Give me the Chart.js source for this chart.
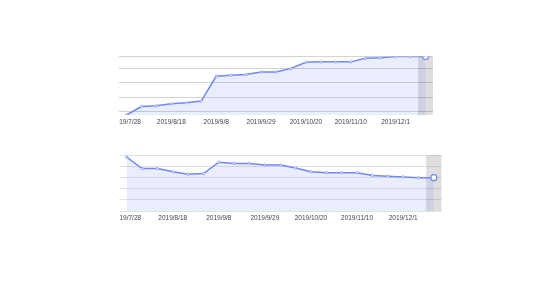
<!DOCTYPE html>
<html>
<head>
<meta charset="utf-8">
<script src="https://cdn.jsdelivr.net/npm/chart.js@4/dist/chart.umd.min.js"></script>
<style>
    body { margin: 0; background: #fff; width: 554px; height: 301px; position: relative; overflow: hidden; }
    .clip { position: absolute; overflow: hidden; }
    .box { position: absolute; top: 0; }
</style>
</head>
<body>
<div class="clip" style="left:119px; top:48px; width:330px; height:80px;">
    <div class="box" style="left:-20px; width:340px; height:80px;"><canvas id="topGraph"></canvas></div>
</div>
<div class="clip" style="left:119px; top:150px; width:335px; height:74px;">
    <div class="box" style="left:-20px; width:350px; height:74px;"><canvas id="bottomGraph"></canvas></div>
</div>
<script>
// weekly categories, one label every three weeks
const categories = ['2019/7/28', '2019/8/4', '2019/8/11', '2019/8/18', '2019/8/25', '2019/9/1', '2019/9/8',
    '2019/9/15', '2019/9/22', '2019/9/29', '2019/10/6', '2019/10/13', '2019/10/20', '2019/10/27',
    '2019/11/3', '2019/11/10', '2019/11/17', '2019/11/24', '2019/12/1', '2019/12/8', '2019/12/15'];
const labelEvery = 3;

const topValues = [1077, 1135, 1140, 1154, 1161, 1173, 1344, 1351, 1356, 1373, 1373, 1398, 1440, 1443,
    1443, 1443, 1468, 1471, 1480, 1480, 1480];
const topTicks = [1100, 1200, 1300, 1400, 1480];

const bottomValues = [96.8, 76.0, 76.0, 70.3, 65.9, 67.1, 87.5, 85.3, 85.3, 82.3, 82.3, 77.0, 70.3, 68.6,
    68.6, 68.6, 63.8, 62.4, 61.0, 59.7, 59.7];
const bottomTicks = [0, 20, 40, 60, 80, 100];

const lineColor = 'rgb(112, 136, 240)';

// grey band over the last category
const lastBand = {
    id: 'lastBand',
    beforeDatasetsDraw(chart) {
        const x = chart.scales.x;
        const area = chart.chartArea;
        const n = chart.data.labels.length;
        const half = (x.getPixelForValue(1) - x.getPixelForValue(0)) / 2;
        const cx = x.getPixelForValue(n - 1);
        const ctx = chart.ctx;
        ctx.save();
        ctx.fillStyle = 'rgba(0, 0, 0, 0.13)';
        ctx.fillRect(cx - half, area.top, half * 2, area.bottom - area.top);
        ctx.restore();
    }
};

function makeChart(id, values, ticks, yMin, yMax, pad, gridColor) {
    const ctx = document.getElementById(id).getContext('2d');
    return new Chart(ctx, {
        type: 'line',
        data: {
            labels: categories,
            datasets: [{
                data: values,
                borderColor: lineColor,
                borderWidth: 1.5,
                backgroundColor: 'rgba(95, 115, 235, 0.13)',
                fill: 'start',
                tension: 0,
                pointRadius: c => c.dataIndex === values.length - 1 ? 3 : 1.2,
                pointBorderWidth: c => c.dataIndex === values.length - 1 ? 1.2 : 0.7,
                pointBackgroundColor: '#fff',
                pointBorderColor: lineColor,
            }]
        },
        options: {
            responsive: true,
            maintainAspectRatio: false,
            animation: false,
            layout: { padding: pad },
            plugins: {
                legend: { display: false },
                tooltip: { enabled: false }
            },
            scales: {
                x: {
                    offset: true,
                    grid: { display: false, drawTicks: false },
                    border: { display: false },
                    afterFit: s => { s.height = 13; },
                    ticks: {
                        autoSkip: false,
                        maxRotation: 0,
                        padding: 3,
                        color: '#444',
                        font: { family: 'Liberation Sans', size: 6.5 },
                        callback: (v, i) => i % labelEvery === 0 ? categories[i] : ''
                    }
                },
                y: {
                    min: yMin,
                    max: yMax,
                    afterBuildTicks: s => { s.ticks = ticks.map(v => ({ value: v })); },
                    afterFit: s => { s.width = 0; },
                    grid: { color: gridColor, lineWidth: 1, drawTicks: false },
                    border: { display: false },
                    ticks: { display: false }
                }
            }
        },
        plugins: [lastBand]
    });
}

document.addEventListener('DOMContentLoaded', () => {
    makeChart('topGraph', topValues, topTicks, Math.min(...topValues), Math.max(...topValues),
        { left: 20, top: 8.5, right: 6, bottom: 0 }, '#d4d4d4');
    makeChart('bottomGraph', bottomValues, bottomTicks, 0, 100,
        { left: 20, top: 4.7, right: 7.5, bottom: 0 }, '#e2e2e2');
});
</script>
</body>
</html>
